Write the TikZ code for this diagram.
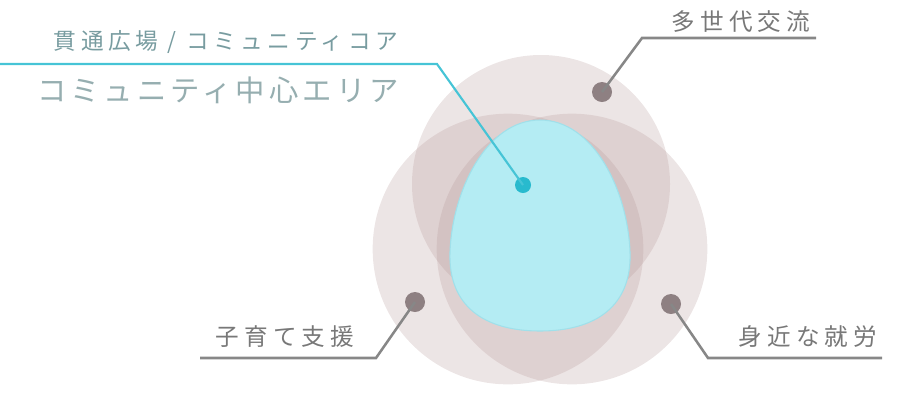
\documentclass[tikz,border=0pt]{standalone}
\usepackage{fontspec}
\newfontfamily\jpls[LetterSpace=22]{Noto Sans CJK JP}
\newfontfamily\jplm[LetterSpace=14]{Noto Sans CJK JP}
\newfontfamily\jplt[LetterSpace=20]{Noto Sans CJK JP}
\definecolor{circ}{RGB}{180,150,150}
\definecolor{eggfill}{RGB}{180,236,243}
\definecolor{eggedge}{RGB}{160,224,234}
\definecolor{cyanline}{RGB}{70,196,214}
\definecolor{cyandot}{RGB}{40,186,206}
\definecolor{dotgray}{RGB}{142,128,130}
\definecolor{linegray}{RGB}{135,135,135}
\definecolor{txtgray}{RGB}{120,120,120}
\definecolor{txtteal}{RGB}{120,156,160}
\definecolor{txtteal2}{RGB}{150,174,176}
\tikzset{
  circ/.style={fill=circ,fill opacity=0.25},
  graydot/.style={circle,fill=dotgray,inner sep=0pt,minimum size=15pt},
  cyandotst/.style={circle,fill=cyandot,inner sep=0pt,minimum size=12pt},
  grayline/.style={draw=linegray,line width=1.9pt},
  cyanl/.style={draw=cyanline,line width=1.6pt},
  lbl/.style={inner sep=0pt,text=txtgray,font=\jpls\fontsize{17.7pt}{17.7pt}\selectfont},
}
\begin{document}
\begin{tikzpicture}[x=0.75pt,y=-0.75pt]
\useasboundingbox (0,0) rectangle (906,394);
% circles
\fill[circ] (541,184) circle [radius=96.75pt];
\fill[circ] (508,249) circle [radius=101.5pt];
\fill[circ] (572,249) circle [radius=101.5pt];
% egg
\draw[fill=eggfill,draw=eggedge,line width=0.8pt]
  (540,120) .. controls (594,120) and (628,192) .. (630,252)
  .. controls (632,306) and (596,331) .. (540,331)
  .. controls (484,331) and (448,306) .. (450,252)
  .. controls (452,192) and (486,120) .. (540,120) -- cycle;
% dots
\node[cyandotst] (dc) at (523,185) {};
\node[graydot] (dt) at (602,92) {};
\node[graydot] (dl) at (415,302) {};
\node[graydot] (dr) at (671,304) {};
% bends and ends
\coordinate (bc) at (437,64);
\coordinate (ec) at (0,64);
\coordinate (bt) at (642,38);
\coordinate (et) at (816,38);
\coordinate (bl) at (376,358);
\coordinate (el) at (200,358);
\coordinate (br) at (708,358);
\coordinate (er) at (882,358);
% connectors
\draw[cyanl] (dc.center) -- (bc) -- (ec);
\draw[grayline] (dt.center) -- (bt) -- (et);
\draw[grayline] (dl.center) -- (bl) -- (el);
\draw[grayline] (dr.center) -- (br) -- (er);
% labels
\node[lbl] (tt) at (741,22) {多世代交流};
\node[lbl] (tl) at (285,337) {子育て支援};
\node[lbl] (tr) at (808,337) {身近な就労};
\node[inner sep=0pt,text=txtteal,font=\jplt\fontsize{17pt}{17pt}\selectfont] (t1) at (226,42) {貫通広場 / コミュニティコア};
\node[inner sep=0pt,text=txtteal2,font=\jplm\fontsize{22pt}{22pt}\selectfont] (t2) at (218,90) {コミュニティ中心エリア};
\end{tikzpicture}
\end{document}
